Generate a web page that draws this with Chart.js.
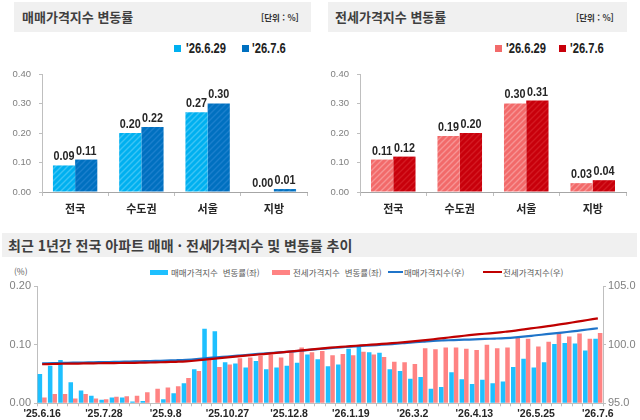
<!DOCTYPE html>
<html lang="ko">
<head>
<meta charset="UTF-8">
<title>매매·전세가격지수 변동률</title>
<script src="https://cdn.jsdelivr.net/npm/chart.js"></script>
<style>
body { margin: 0; width: 640px; height: 420px; background: #fff; position: relative; overflow: hidden; font-family: 'Noto Sans CJK KR', sans-serif; }
.bar { position: absolute; background: #f0f0f0; }
.ttl { position: absolute; font-weight: bold; color: #3f3f3f; white-space: nowrap; }
.unit { position: absolute; font-weight: bold; color: #333; font-size: 8.5px; white-space: nowrap; }
.sq { position: absolute; width: 7px; height: 7px; }
.lg { position: absolute; font-family: 'Liberation Sans', sans-serif; font-weight: bold; font-size: 14px; color: #222; line-height: 14px; white-space: nowrap; transform: scaleX(0.8); transform-origin: left center; }
.lg2 { position: absolute; font-size: 8.5px; color: #595959; line-height: 10px; white-space: nowrap; }
canvas { position: absolute; }
</style>
</head>
<body>
<div class="bar" style="left:14px;top:2px;width:297px;height:30px"></div>
<div class="ttl" style="left:22px;top:2px;line-height:30px;font-size:13px">매매가격지수 변동률</div>
<div class="unit" style="left:261px;top:2px;line-height:30px">[단위 : %]</div>
<div class="sq" style="left:174px;top:45px;background:#00b0f0"></div>
<div class="lg" style="left:186px;top:41px">'26.6.29</div>
<div class="sq" style="left:242px;top:45px;background:#0070c0"></div>
<div class="lg" style="left:252px;top:41px">'26.7.6</div>

<div class="bar" style="left:328px;top:2px;width:299px;height:30px"></div>
<div class="ttl" style="left:335px;top:2px;line-height:30px;font-size:13px">전세가격지수 변동률</div>
<div class="unit" style="left:576px;top:2px;line-height:30px">[단위 : %]</div>
<div class="sq" style="left:495px;top:45px;background:#f26a6a"></div>
<div class="lg" style="left:506px;top:41px">'26.6.29</div>
<div class="sq" style="left:559px;top:45px;background:#c8000b"></div>
<div class="lg" style="left:570px;top:41px">'26.7.6</div>

<div class="bar" style="left:2px;top:233px;width:635px;height:24px"></div>
<div class="ttl" style="left:8px;top:233px;line-height:24px;font-size:14px">최근 1년간 전국 아파트 매매 · 전세가격지수 및 변동률 추이</div>
<div class="lg2" style="left:14px;top:266px">(%)</div>
<div style="position:absolute;left:150px;top:270px;width:18px;height:5px;background:#1ec0ff"></div>
<div class="lg2" style="left:171px;top:267px">매매가격지수&nbsp; 변동률(좌)</div>
<div style="position:absolute;left:272px;top:270px;width:18px;height:5px;background:#ff8383"></div>
<div class="lg2" style="left:293px;top:267px">전세가격지수&nbsp; 변동률(좌)</div>
<div style="position:absolute;left:388px;top:271px;width:15px;height:2px;background:#1f74c9"></div>
<div class="lg2" style="left:404px;top:267px">매매가격지수(우)</div>
<div style="position:absolute;left:483px;top:271px;width:19px;height:2px;background:#c00000"></div>
<div class="lg2" style="left:503px;top:267px">전세가격지수(우)</div>

<canvas id="saleChart" width="312" height="160" style="left:0;top:60px"></canvas>
<canvas id="jeonseChart" width="312" height="160" style="left:320px;top:60px"></canvas>
<canvas id="trendChart" width="640" height="144" style="left:0;top:276px"></canvas>

<script>
// 주간 변동률 (상단 두 차트)
const regions = ['전국', '수도권', '서울', '지방'];
const weekNames = ["'26.6.29", "'26.7.6"];
const saleRatePrev = [0.09, 0.20, 0.27, 0.00];
const saleRateNow = [0.11, 0.22, 0.30, 0.01];
const jeonseRatePrev = [0.11, 0.19, 0.30, 0.03];
const jeonseRateNow = [0.12, 0.20, 0.31, 0.04];

// 최근 1년간 추이 (하단 차트)
const weeks = ["'25.6.16", "'25.6.23", "'25.6.30", "'25.7.7", "'25.7.14", "'25.7.21", "'25.7.28",
  "'25.8.4", "'25.8.11", "'25.8.18", "'25.8.25", "'25.9.1", "'25.9.8", "'25.9.15", "'25.9.22",
  "'25.9.29", "'25.10.13", "'25.10.20", "'25.10.27", "'25.11.3", "'25.11.10", "'25.11.17",
  "'25.11.24", "'25.12.1", "'25.12.8", "'25.12.15", "'25.12.22", "'25.12.29", "'26.1.5",
  "'26.1.12", "'26.1.19", "'26.1.26", "'26.2.2", "'26.2.9", "'26.2.16", "'26.2.23", "'26.3.2",
  "'26.3.9", "'26.3.16", "'26.3.23", "'26.3.30", "'26.4.6", "'26.4.13", "'26.4.20", "'26.4.27",
  "'26.5.4", "'26.5.11", "'26.5.18", "'26.5.25", "'26.6.1", "'26.6.8", "'26.6.15", "'26.6.22",
  "'26.6.29", "'26.7.6"];
const shownWeeks = ["'25.6.16", "'25.7.28", "'25.9.8", "'25.10.27", "'25.12.8", "'26.1.19",
  "'26.3.2", "'26.4.13", "'26.5.25", "'26.7.6"];
const saleRate = [0.050, 0.064, 0.074, 0.036, 0.022, 0.013, 0.006, 0.010, 0.010, 0.003, 0.004,
  0.001, 0.007, 0.017, 0.034, 0.058, 0.127, 0.123, 0.070, 0.068, 0.061, 0.072, 0.058, 0.061,
  0.064, 0.069, 0.083, 0.075, 0.063, 0.066, 0.093, 0.097, 0.087, 0.086, 0.058, 0.055, 0.042,
  0.045, 0.025, 0.028, 0.053, 0.041, 0.033, 0.040, 0.034, 0.037, 0.062, 0.076, 0.061, 0.070,
  0.101, 0.103, 0.102, 0.090, 0.110];
const jeonseRate = [0.010, 0.016, 0.016, 0.008, 0.016, 0.008, 0.007, 0.011, 0.012, 0.013, 0.019,
  0.025, 0.027, 0.029, 0.043, 0.055, 0.076, 0.062, 0.066, 0.077, 0.078, 0.081, 0.083, 0.078,
  0.087, 0.095, 0.087, 0.089, 0.082, 0.084, 0.082, 0.088, 0.083, 0.079, 0.071, 0.070, 0.067,
  0.094, 0.092, 0.095, 0.095, 0.093, 0.091, 0.100, 0.094, 0.095, 0.113, 0.110, 0.097, 0.105,
  0.121, 0.114, 0.119, 0.110, 0.120];
const saleIndex = [98.40, 98.42, 98.44, 98.46, 98.48, 98.50, 98.51, 98.53, 98.55, 98.57, 98.59,
  98.61, 98.64, 98.67, 98.71, 98.77, 98.85, 98.92, 98.99, 99.06, 99.13, 99.21, 99.28, 99.34,
  99.40, 99.47, 99.55, 99.63, 99.70, 99.77, 99.83, 99.89, 99.94, 99.99, 100.05, 100.12, 100.20,
  100.26, 100.32, 100.36, 100.39, 100.42, 100.45, 100.49, 100.52, 100.56, 100.62, 100.70,
  100.80, 100.89, 100.98, 101.08, 101.18, 101.29, 101.40];
const jeonseIndex = [98.33, 98.35, 98.37, 98.38, 98.40, 98.41, 98.42, 98.43, 98.44, 98.45, 98.47,
  98.49, 98.51, 98.54, 98.58, 98.65, 98.75, 98.83, 98.92, 99.00, 99.08, 99.16, 99.24, 99.32,
  99.40, 99.49, 99.58, 99.66, 99.74, 99.81, 99.87, 99.94, 100.00, 100.06, 100.13, 100.20, 100.28,
  100.37, 100.46, 100.56, 100.66, 100.76, 100.85, 100.93, 101.01, 101.10, 101.20, 101.32,
  101.44, 101.56, 101.68, 101.82, 101.96, 102.10, 102.24];

const numFont = "'Liberation Sans', sans-serif";

// 빗금 패턴
function hatch(base, stripe) {
  const c = document.createElement('canvas');
  c.width = 6; c.height = 6;
  const g = c.getContext('2d');
  g.fillStyle = base;
  g.fillRect(0, 0, 6, 6);
  g.strokeStyle = stripe;
  g.lineWidth = 1.4;
  g.beginPath();
  g.moveTo(0, 6); g.lineTo(6, 0);
  g.moveTo(-3, 3); g.lineTo(3, -3);
  g.moveTo(3, 9); g.lineTo(9, 3);
  g.stroke();
  return g.createPattern(c, 'repeat');
}

// 막대 위 값 표시 (좁은 글꼴처럼 가로로 눌러서)
const valueLabels = {
  id: 'valueLabels',
  afterDatasetsDraw(chart) {
    const ctx = chart.ctx;
    chart.data.datasets.forEach((ds, i) => {
      chart.getDatasetMeta(i).data.forEach((bar, j) => {
        ctx.save();
        ctx.translate(bar.x, bar.y - 2);
        ctx.scale(0.8, 1);
        ctx.font = 'bold 13.5px ' + numFont;
        ctx.fillStyle = '#262626';
        ctx.textAlign = 'center';
        ctx.textBaseline = 'bottom';
        ctx.fillText(ds.data[j].toFixed(2), 0, 0);
        ctx.restore();
      });
    });
  }
};

function rateChart(id, prev, now, colPrev, colNow, yWidth, padRight) {
  return new Chart(document.getElementById(id), {
    type: 'bar',
    data: {
      labels: regions,
      datasets: [
        { label: weekNames[0], data: prev, backgroundColor: colPrev },
        { label: weekNames[1], data: now, backgroundColor: colNow }
      ]
    },
    options: {
      responsive: false,
      animation: false,
      layout: { padding: { top: 14, right: padRight, left: 0, bottom: 0 } },
      plugins: { legend: { display: false }, tooltip: { enabled: false } },
      datasets: { bar: { barPercentage: 1, categoryPercentage: 0.67 } },
      scales: {
        x: {
          grid: { drawOnChartArea: false, tickLength: 4, offset: true, color: '#bfbfbf' },
          border: { color: '#a6a6a6' },
          ticks: { padding: 6, color: '#262626', font: { family: 'Noto Sans CJK KR', size: 11, weight: 'bold' } },
          afterFit: s => { s.height = 28; }
        },
        y: {
          min: 0, max: 0.4,
          ticks: { stepSize: 0.1, padding: 8, color: '#7f7f7f', font: { family: numFont, size: 9.5 },
            callback: v => v.toFixed(2) },
          grid: { drawOnChartArea: false, tickLength: 3, color: '#bfbfbf' },
          border: { color: '#bfbfbf' },
          afterFit: s => { s.width = yWidth; }
        }
      }
    },
    plugins: [valueLabels]
  });
}

rateChart('saleChart', saleRatePrev, saleRateNow,
  hatch('#00b0f0', '#3cc4f5'), hatch('#0070c0', '#1b7fcc'), 42, 5);
rateChart('jeonseChart', jeonseRatePrev, jeonseRateNow,
  hatch('#f26a6a', '#f79494'), hatch('#c8000b', '#d31a22'), 40, 6);

new Chart(document.getElementById('trendChart'), {
  type: 'bar',
  data: {
    labels: weeks,
    datasets: [
      { type: 'line', label: '전세가격지수(우)', data: jeonseIndex, yAxisID: 'y1', borderColor: '#c00000',
        borderWidth: 2.2, pointRadius: 0, tension: 0.4, order: 0 },
      { type: 'line', label: '매매가격지수(우)', data: saleIndex, yAxisID: 'y1', borderColor: '#1f74c9',
        borderWidth: 2.2, pointRadius: 0, tension: 0.4, order: 1 },
      { label: '매매가격지수 변동률(좌)', data: saleRate, yAxisID: 'y', backgroundColor: '#1ec0ff', order: 2 },
      { label: '전세가격지수 변동률(좌)', data: jeonseRate, yAxisID: 'y', backgroundColor: '#ff8383', order: 2 }
    ]
  },
  options: {
    responsive: false,
    animation: false,
    layout: { padding: { top: 10, right: 0, left: 0, bottom: 0 } },
    plugins: { legend: { display: false }, tooltip: { enabled: false } },
    datasets: { bar: { barPercentage: 1, categoryPercentage: 0.88 } },
    scales: {
      x: {
        grid: { drawOnChartArea: false, tickLength: 3, offset: true, color: '#bfbfbf' },
        border: { color: '#bfbfbf' },
        ticks: {
          autoSkip: false, maxRotation: 0, padding: 1.5, color: '#262626',
          font: { family: numFont, size: 10.5, weight: 'bold' },
          callback: function (v) {
            const s = this.getLabelForValue(v);
            return shownWeeks.includes(s) ? s : '';
          }
        },
        afterFit: s => { s.height = 16.7; }
      },
      y: {
        position: 'left', min: 0, max: 0.2,
        ticks: { stepSize: 0.1, padding: 3, color: '#808080', font: { family: numFont, size: 11 },
          callback: v => v.toFixed(2) },
        grid: { drawOnChartArea: false, tickLength: 3, color: '#bfbfbf' },
        border: { color: '#bfbfbf' },
        afterFit: s => { s.width = 37; }
      },
      y1: {
        position: 'right', min: 95, max: 105,
        ticks: { stepSize: 5, padding: 2, color: '#808080', font: { family: numFont, size: 11 },
          callback: v => v.toFixed(1) },
        grid: { drawOnChartArea: false, tickLength: 3, color: '#bfbfbf' },
        border: { color: '#bfbfbf' },
        afterFit: s => { s.width = 37; }
      }
    }
  }
});
</script>
</body>
</html>
